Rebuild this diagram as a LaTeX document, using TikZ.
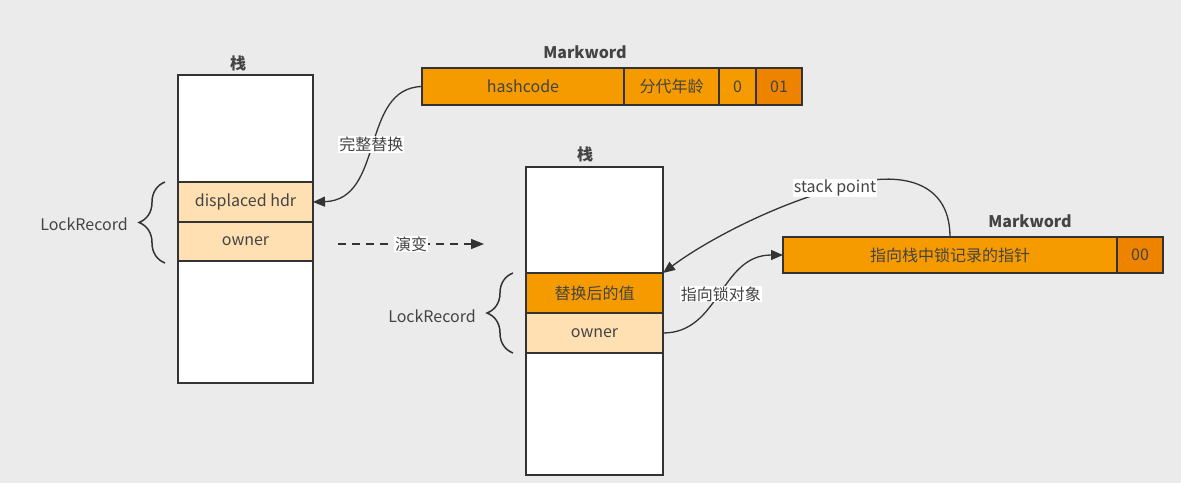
\documentclass[tikz,border=0pt]{standalone}
\usepackage{fontspec}
\setmainfont{Noto Sans CJK SC}
\usetikzlibrary{arrows.meta,decorations.pathreplacing,calc}
\definecolor{bggray}{HTML}{EBEBEB}
\definecolor{orng}{HTML}{F59B00}
\definecolor{dorng}{HTML}{EE8300}
\definecolor{peach}{HTML}{FFE0B2}
\definecolor{edge}{HTML}{333333}
\definecolor{txt}{HTML}{444444}
\begin{document}
\begin{tikzpicture}[x=1pt,y=-1pt,
  font=\fontsize{16}{18}\selectfont,
  cell/.style={draw=edge,line width=1.5pt,inner sep=0pt,outer sep=0pt,text=txt},
  stackbox/.style={cell,fill=white},
  lightcell/.style={cell,fill=peach},
  orangecell/.style={cell,fill=orng},
  darkcell/.style={cell,fill=dorng},
  title/.style={font=\fontsize{16}{18}\selectfont\bfseries,text=txt},
  lbl/.style={text=txt,inner sep=1pt},
  wlbl/.style={text=txt,fill=white,inner sep=1pt},
  conn/.style={draw=edge,line width=1.3pt,-{Triangle[length=12pt,width=10pt]}},
  brc/.style={draw=edge,line width=1.5pt,decorate,decoration={brace,amplitude=26pt,aspect=0.5}}
]
\fill[bggray] (0,0) rectangle (1181,483);
\useasboundingbox (0,0) rectangle (1181,483);

% ---------- left stack ----------
\node[title] (t1) at (238,63) {栈};
\node[stackbox,minimum width=135pt,minimum height=308pt] (s1) at (245.5,229) {};
\node[lightcell,minimum width=135pt,minimum height=40pt] (d1) at (245.5,202) {displaced hdr};
\node[lightcell,minimum width=135pt,minimum height=39pt] (o1) at (245.5,241.5) {owner};
\draw[brc] (165,263) -- (165,182);
\node[lbl] (lr1) at (84,224) {LockRecord};

% ---------- top markword ----------
\node[title] (mw1) at (585,52) {Markword};
\node[orangecell,minimum width=202pt,minimum height=37pt] (hc) at (523,86.5) {hashcode};
\node[orangecell,minimum width=95pt,minimum height=37pt] (age) at (671.5,86.5) {分代年龄};
\node[orangecell,minimum width=37pt,minimum height=37pt] (b0) at (737.5,86.5) {0};
\node[darkcell,minimum width=46pt,minimum height=37pt] (b01) at (779,86.5) {01};

\draw[conn] (hc.west) .. controls (360,88) and (385,200) .. (d1.east)
  node[pos=0.5,wlbl] (l1) {完整替换};

% ---------- evolve arrow ----------
\coordinate (ev1) at (338,244);
\coordinate (ev2) at (484,244);
\draw[draw=edge,line width=1.5pt,dash pattern=on 8pt off 6pt,-{Triangle[length=13pt,width=10pt]}] (ev1) -- (ev2)
  node[pos=0.5,wlbl] (l2) {演变};

% ---------- right stack ----------
\node[title] (t2) at (585,154) {栈};
\node[stackbox,minimum width=137pt,minimum height=308pt] (s2) at (594.5,321) {};
\node[orangecell,minimum width=137pt,minimum height=40pt] (r2) at (594.5,293) {替换后的值};
\node[lightcell,minimum width=137pt,minimum height=40pt] (o2) at (594.5,333) {owner};
\draw[brc] (513,353) -- (513,273);
\node[lbl] (lr2) at (432,316) {LockRecord};

% ---------- right markword ----------
\node[title] (mw2) at (1030,221) {Markword};
\node[orangecell,minimum width=334pt,minimum height=36pt] (ptr) at (950,255) {指向栈中锁记录的指针};
\node[darkcell,minimum width=46pt,minimum height=36pt] (b00) at (1140,255) {00};

\draw[conn] (ptr.north) .. controls (950,175) and (890,172) .. (845,186)
  .. controls (770,205) and (700,245) .. (r2.north east);
\node[wlbl] (l3) at (835,188) {stack point};

\draw[conn] (o2.east) .. controls (720,333) and (720,255) .. (ptr.west)
  node[pos=0.5,wlbl] (l4) {指向锁对象};
\end{tikzpicture}
\end{document}
